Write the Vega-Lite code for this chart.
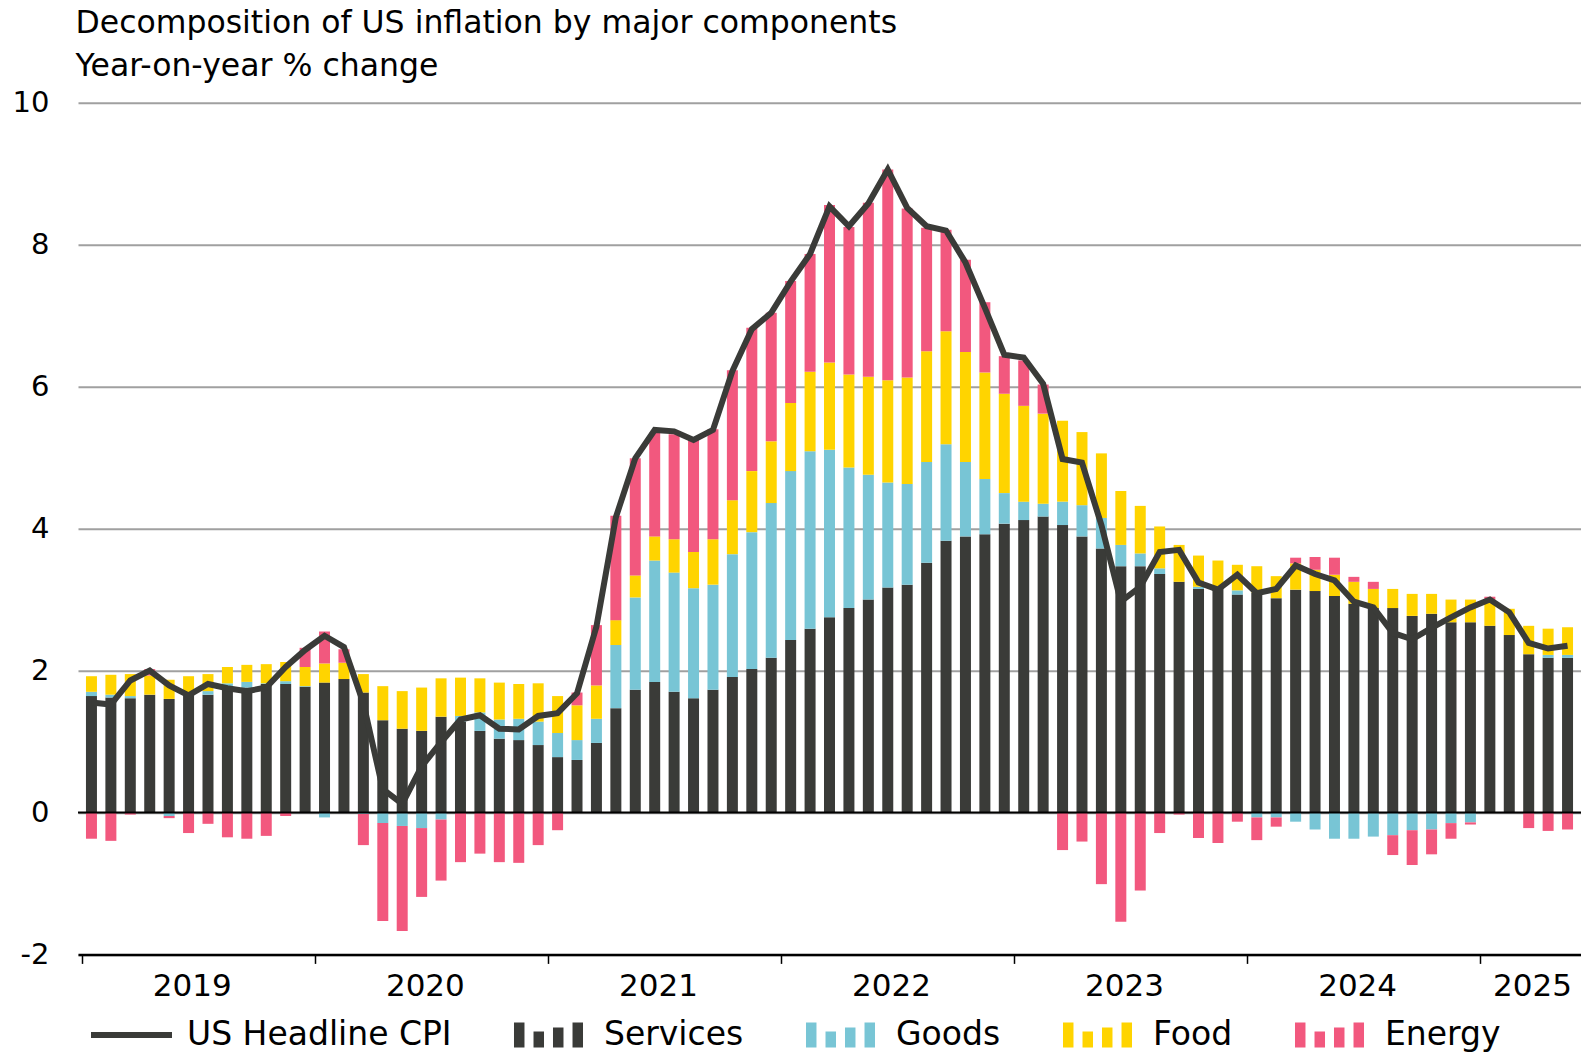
{
  "$schema": "https://vega.github.io/schema/vega-lite/v6.json",
  "autosize": {"type": "none"},
  "width": 1503,
  "height": 851.6,
  "padding": {"left": 78, "top": 102.8, "right": 0, "bottom": 98.6},
  "background": "white",
  "config": {"font": "DejaVu Sans", "view": {"stroke": null}},
  "title": {
    "text": ["Decomposition of US inflation by major components", "Year-on-year % change"],
    "anchor": "start",
    "frame": "group",
    "font": "DejaVu Sans",
    "fontSize": 31.5,
    "fontWeight": "normal",
    "color": "#000",
    "lineHeight": 43.3,
    "offset": 6,
    "dx": -2.5
  },
  "datasets": {
    "rows": [
      {"month":"2019-01","Services":1.64,"Goods":0.06,"Food":0.22,"Energy":-0.37,"CPI":1.55},
      {"month":"2019-02","Services":1.62,"Goods":0.04,"Food":0.28,"Energy":-0.40,"CPI":1.52},
      {"month":"2019-03","Services":1.61,"Goods":0.03,"Food":0.31,"Energy":-0.03,"CPI":1.86},
      {"month":"2019-04","Services":1.66,"Goods":0,"Food":0.27,"Energy":0.09,"CPI":2.00},
      {"month":"2019-05","Services":1.60,"Goods":-0.05,"Food":0.27,"Energy":-0.03,"CPI":1.79},
      {"month":"2019-06","Services":1.66,"Goods":0,"Food":0.26,"Energy":-0.29,"CPI":1.65},
      {"month":"2019-07","Services":1.66,"Goods":0.05,"Food":0.24,"Energy":-0.16,"CPI":1.81},
      {"month":"2019-08","Services":1.73,"Goods":0.09,"Food":0.23,"Energy":-0.35,"CPI":1.75},
      {"month":"2019-09","Services":1.76,"Goods":0.08,"Food":0.24,"Energy":-0.37,"CPI":1.71},
      {"month":"2019-10","Services":1.81,"Goods":0.01,"Food":0.27,"Energy":-0.33,"CPI":1.76},
      {"month":"2019-11","Services":1.81,"Goods":0.04,"Food":0.27,"Energy":-0.05,"CPI":2.05},
      {"month":"2019-12","Services":1.77,"Goods":0.01,"Food":0.27,"Energy":0.27,"CPI":2.29},
      {"month":"2020-01","Services":1.83,"Goods":-0.07,"Food":0.27,"Energy":0.45,"CPI":2.49},
      {"month":"2020-02","Services":1.88,"Goods":0,"Food":0.23,"Energy":0.19,"CPI":2.33},
      {"month":"2020-03","Services":1.69,"Goods":-0.02,"Food":0.26,"Energy":-0.44,"CPI":1.54},
      {"month":"2020-04","Services":1.30,"Goods":-0.15,"Food":0.48,"Energy":-1.38,"CPI":0.33},
      {"month":"2020-05","Services":1.18,"Goods":-0.19,"Food":0.53,"Energy":-1.48,"CPI":0.12},
      {"month":"2020-06","Services":1.15,"Goods":-0.22,"Food":0.61,"Energy":-0.97,"CPI":0.65},
      {"month":"2020-07","Services":1.35,"Goods":-0.10,"Food":0.54,"Energy":-0.86,"CPI":0.99},
      {"month":"2020-08","Services":1.28,"Goods":0.08,"Food":0.54,"Energy":-0.70,"CPI":1.31},
      {"month":"2020-09","Services":1.15,"Goods":0.26,"Food":0.48,"Energy":-0.58,"CPI":1.37},
      {"month":"2020-10","Services":1.04,"Goods":0.27,"Food":0.52,"Energy":-0.70,"CPI":1.18},
      {"month":"2020-11","Services":1.02,"Goods":0.30,"Food":0.49,"Energy":-0.71,"CPI":1.17},
      {"month":"2020-12","Services":0.95,"Goods":0.33,"Food":0.54,"Energy":-0.46,"CPI":1.36},
      {"month":"2021-01","Services":0.78,"Goods":0.34,"Food":0.52,"Energy":-0.25,"CPI":1.40},
      {"month":"2021-02","Services":0.74,"Goods":0.28,"Food":0.49,"Energy":0.18,"CPI":1.68},
      {"month":"2021-03","Services":0.98,"Goods":0.34,"Food":0.47,"Energy":0.85,"CPI":2.62},
      {"month":"2021-04","Services":1.47,"Goods":0.89,"Food":0.35,"Energy":1.47,"CPI":4.16},
      {"month":"2021-05","Services":1.73,"Goods":1.30,"Food":0.31,"Energy":1.65,"CPI":4.99},
      {"month":"2021-06","Services":1.84,"Goods":1.71,"Food":0.34,"Energy":1.46,"CPI":5.39},
      {"month":"2021-07","Services":1.70,"Goods":1.68,"Food":0.47,"Energy":1.48,"CPI":5.37},
      {"month":"2021-08","Services":1.61,"Goods":1.55,"Food":0.51,"Energy":1.58,"CPI":5.25},
      {"month":"2021-09","Services":1.73,"Goods":1.48,"Food":0.64,"Energy":1.55,"CPI":5.39},
      {"month":"2021-10","Services":1.91,"Goods":1.73,"Food":0.76,"Energy":1.83,"CPI":6.22},
      {"month":"2021-11","Services":2.02,"Goods":1.93,"Food":0.86,"Energy":2.02,"CPI":6.81},
      {"month":"2021-12","Services":2.18,"Goods":2.18,"Food":0.87,"Energy":1.81,"CPI":7.04},
      {"month":"2022-01","Services":2.43,"Goods":2.38,"Food":0.96,"Energy":1.72,"CPI":7.48},
      {"month":"2022-02","Services":2.59,"Goods":2.50,"Food":1.12,"Energy":1.66,"CPI":7.87},
      {"month":"2022-03","Services":2.75,"Goods":2.36,"Food":1.23,"Energy":2.22,"CPI":8.54},
      {"month":"2022-04","Services":2.88,"Goods":1.98,"Food":1.31,"Energy":2.08,"CPI":8.26},
      {"month":"2022-05","Services":3.00,"Goods":1.76,"Food":1.38,"Energy":2.45,"CPI":8.58},
      {"month":"2022-06","Services":3.17,"Goods":1.48,"Food":1.44,"Energy":2.97,"CPI":9.06},
      {"month":"2022-07","Services":3.21,"Goods":1.42,"Food":1.50,"Energy":2.38,"CPI":8.52},
      {"month":"2022-08","Services":3.52,"Goods":1.42,"Food":1.56,"Energy":1.74,"CPI":8.26},
      {"month":"2022-09","Services":3.83,"Goods":1.36,"Food":1.59,"Energy":1.43,"CPI":8.20},
      {"month":"2022-10","Services":3.89,"Goods":1.05,"Food":1.55,"Energy":1.30,"CPI":7.75},
      {"month":"2022-11","Services":3.92,"Goods":0.78,"Food":1.50,"Energy":0.99,"CPI":7.11},
      {"month":"2022-12","Services":4.07,"Goods":0.43,"Food":1.40,"Energy":0.53,"CPI":6.45},
      {"month":"2023-01","Services":4.12,"Goods":0.26,"Food":1.35,"Energy":0.64,"CPI":6.41},
      {"month":"2023-02","Services":4.17,"Goods":0.18,"Food":1.27,"Energy":0.41,"CPI":6.04},
      {"month":"2023-03","Services":4.05,"Goods":0.33,"Food":1.14,"Energy":-0.53,"CPI":4.98},
      {"month":"2023-04","Services":3.89,"Goods":0.44,"Food":1.03,"Energy":-0.41,"CPI":4.93},
      {"month":"2023-05","Services":3.72,"Goods":0.43,"Food":0.91,"Energy":-1.01,"CPI":4.05},
      {"month":"2023-06","Services":3.47,"Goods":0.30,"Food":0.76,"Energy":-1.54,"CPI":2.97},
      {"month":"2023-07","Services":3.47,"Goods":0.18,"Food":0.67,"Energy":-1.10,"CPI":3.18},
      {"month":"2023-08","Services":3.36,"Goods":0.08,"Food":0.59,"Energy":-0.29,"CPI":3.67},
      {"month":"2023-09","Services":3.25,"Goods":0,"Food":0.52,"Energy":-0.03,"CPI":3.70},
      {"month":"2023-10","Services":3.15,"Goods":0.03,"Food":0.44,"Energy":-0.36,"CPI":3.24},
      {"month":"2023-11","Services":3.16,"Goods":0.01,"Food":0.38,"Energy":-0.43,"CPI":3.14},
      {"month":"2023-12","Services":3.07,"Goods":0.06,"Food":0.36,"Energy":-0.13,"CPI":3.35},
      {"month":"2024-01","Services":3.10,"Goods":-0.07,"Food":0.37,"Energy":-0.32,"CPI":3.09},
      {"month":"2024-02","Services":3.02,"Goods":-0.07,"Food":0.31,"Energy":-0.13,"CPI":3.15},
      {"month":"2024-03","Services":3.14,"Goods":-0.13,"Food":0.37,"Energy":0.08,"CPI":3.48},
      {"month":"2024-04","Services":3.12,"Goods":-0.24,"Food":0.30,"Energy":0.18,"CPI":3.36},
      {"month":"2024-05","Services":3.05,"Goods":-0.37,"Food":0.30,"Energy":0.24,"CPI":3.27},
      {"month":"2024-06","Services":2.94,"Goods":-0.37,"Food":0.31,"Energy":0.07,"CPI":2.97},
      {"month":"2024-07","Services":2.88,"Goods":-0.34,"Food":0.27,"Energy":0.10,"CPI":2.89},
      {"month":"2024-08","Services":2.88,"Goods":-0.32,"Food":0.27,"Energy":-0.28,"CPI":2.53},
      {"month":"2024-09","Services":2.77,"Goods":-0.25,"Food":0.31,"Energy":-0.49,"CPI":2.44},
      {"month":"2024-10","Services":2.80,"Goods":-0.24,"Food":0.28,"Energy":-0.35,"CPI":2.60},
      {"month":"2024-11","Services":2.68,"Goods":-0.15,"Food":0.32,"Energy":-0.22,"CPI":2.75},
      {"month":"2024-12","Services":2.68,"Goods":-0.14,"Food":0.32,"Energy":-0.03,"CPI":2.89},
      {"month":"2025-01","Services":2.63,"Goods":0,"Food":0.37,"Energy":0.04,"CPI":3.00},
      {"month":"2025-02","Services":2.50,"Goods":0,"Food":0.37,"Energy":0,"CPI":2.82},
      {"month":"2025-03","Services":2.23,"Goods":0,"Food":0.40,"Energy":-0.22,"CPI":2.39},
      {"month":"2025-04","Services":2.18,"Goods":0.04,"Food":0.37,"Energy":-0.26,"CPI":2.31},
      {"month":"2025-05","Services":2.18,"Goods":0.04,"Food":0.39,"Energy":-0.24,"CPI":2.35}
    ]
  },
  "data": {"name": "rows"},
  "layer": [
    {
      "transform": [{"fold": ["Services", "Goods", "Food", "Energy"], "as": ["component", "value"]}],
      "mark": {"type": "bar"},
      "encoding": {
        "x": {
          "field": "month",
          "type": "ordinal",
          "scale": {"paddingInner": 0.434, "paddingOuter": 0.41},
          "axis": {
            "title": null,
            "values": ["2019-01","2019-07","2020-01","2020-07","2021-01","2021-07","2022-01","2022-07","2023-01","2023-07","2024-01","2024-07","2025-01","2025-04"],
            "bandPosition": 0,
            "tickOffset": -4.2,
            "labelOffset": -12,
            "labelExpr": "slice(datum.value, 5) === '01' ? '' : slice(datum.value, 0, 4)",
            "tickOpacity": {"condition": {"test": "slice(datum.value, 5) === '01'", "value": 1}, "value": 0},
            "tickSize": 9,
            "tickWidth": 1.5,
            "tickColor": "#000",
            "domainColor": "#000",
            "domainWidth": 2.5,
            "labelFont": "DejaVu Sans",
            "labelFontSize": 31,
            "labelColor": "#000",
            "labelPadding": 8,
            "labelAngle": 0,
            "labelOverlap": false,
            "labelBound": false,
            "grid": false
          }
        },
        "y": {
          "field": "value",
          "type": "quantitative",
          "stack": "zero",
          "scale": {"domain": [-2, 10], "nice": false, "zero": false},
          "axis": {
            "title": null,
            "values": [-2, 0, 2, 4, 6, 8, 10],
            "grid": true,
            "gridColor": "#a0a0a0",
            "gridWidth": 2,
            "domain": false,
            "ticks": false,
            "tickSize": 0,
            "labelPadding": 29,
            "labelFont": "DejaVu Sans",
            "labelFontSize": 29,
            "labelColor": "#000",
            "labelExpr": "'' + datum.value",
            "labelOverlap": false
          }
        },
        "color": {
          "field": "component",
          "type": "nominal",
          "scale": {
            "domain": ["US Headline CPI", "Services", "Goods", "Food", "Energy"],
            "range": ["#3a3b38", "#3a3b38", "#78c5d5", "#ffd400", "#f2587e"]
          },
          "legend": {
            "title": null,
            "orient": "none",
            "legendX": 13,
            "legendY": 891.5,
            "direction": "horizontal",
            "columnPadding": 56,
            "padding": 0,
            "symbolSize": 6561,
            "symbolStrokeWidth": 0,
            "symbolOpacity": 1,
            "labelOffset": 15,
            "labelFont": "DejaVu Sans",
            "labelFontSize": 33,
            "labelColor": "#000",
            "labelLimit": 500,
            "encode": {
              "symbols": {
                "update": {
                  "shape": {"signal": "datum.value === 'US Headline CPI' ? 'M-1,-0.074H1V0.074H-1Z' : 'M-0.852,-0.309H-0.593V0.309H-0.852Z M-0.370,-0.086H-0.111V0.309H-0.370Z M0.111,-0.185H0.370V0.309H0.111Z M0.593,-0.309H0.852V0.309H0.593Z'"},
                  "fill": {"signal": "scale('color', datum.value)"},
                  "stroke": {"value": "transparent"},
                  "opacity": {"value": 1},
                  "fillOpacity": {"value": 1}
                }
              }
            }
          }
        }
      }
    },
    {
      "data": {"values": [{}]},
      "mark": {"type": "rule", "color": "#000", "strokeWidth": 2},
      "encoding": {"y": {"datum": 0}}
    },
    {
      "mark": {"type": "line", "strokeWidth": 6, "strokeJoin": "miter"},
      "encoding": {
        "x": {"field": "month", "type": "ordinal"},
        "y": {"field": "CPI", "type": "quantitative"},
        "color": {"datum": "US Headline CPI"}
      }
    }
  ]
}
